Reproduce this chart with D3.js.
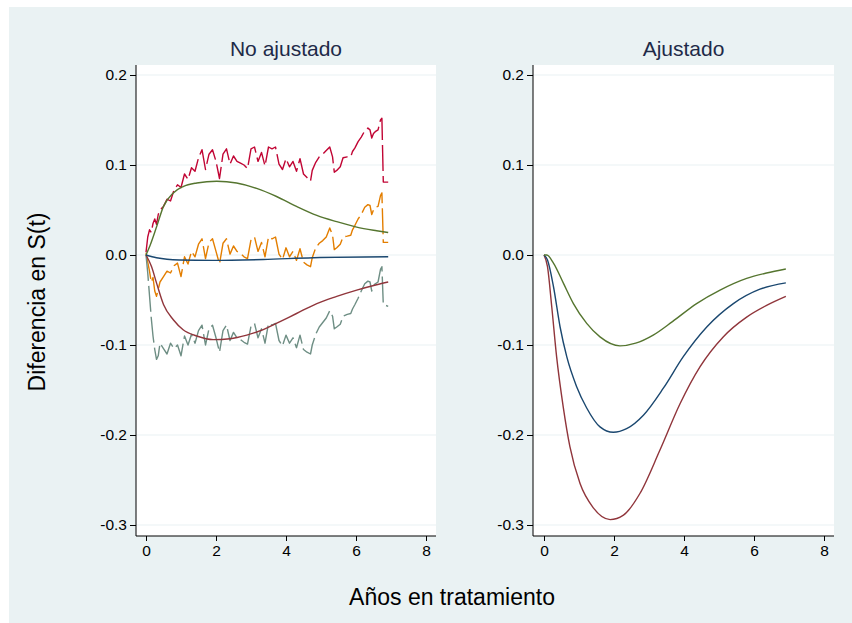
<!DOCTYPE html>
<html>
<head>
<meta charset="utf-8">
<script src="https://d3js.org/d3.v7.min.js"></script>
<style>
  body { margin: 0; background: #fff; }
  svg text { font-family: "Liberation Sans", Arial, Helvetica, sans-serif; }
</style>
</head>
<body>
<div id="viz"></div>
<script>
// ---- data ----
let yTicks = [0.2, 0.1, 0.0, -0.1, -0.2, -0.3];
let xTicks = [0, 2, 4, 6, 8];
let panelTitles = ["No ajustado", "Ajustado"];

// step-type estimates, no ajustado (dashed)
let tNoisy = [0, 0.05, 0.1, 0.15, 0.2, 0.25, 0.3, 0.35, 0.4,
  0.5, 0.6, 0.7, 0.8, 0.9, 1.0, 1.1, 1.2, 1.3, 1.4, 1.5, 1.6, 1.7, 1.8, 1.9,
  2.0, 2.1, 2.2, 2.3, 2.4, 2.5, 2.6, 2.7, 2.8, 2.9, 3.0, 3.1, 3.2, 3.3, 3.4,
  3.5, 3.6, 3.7, 3.8, 3.9, 4.0, 4.1, 4.2, 4.3, 4.4, 4.5, 4.6, 4.7,
  4.75, 4.85, 4.95, 5.05, 5.15, 5.25, 5.33, 5.38, 5.45, 5.55, 5.63, 5.75,
  5.85, 5.9, 5.97, 6.06, 6.15, 6.25, 6.34, 6.4, 6.45, 6.5, 6.55, 6.63,
  6.7, 6.74, 6.78, 6.92];
let upperNoisy = [0.003, 0.02, 0.028, 0.025, 0.035, 0.04, 0.034, 0.045, 0.05,
  0.054, 0.062, 0.06, 0.072, 0.078, 0.075, 0.09, 0.084, 0.097, 0.093, 0.108, 0.117, 0.095, 0.112, 0.117,
  0.104, 0.085, 0.112, 0.118, 0.101, 0.11, 0.104, 0.102, 0.1, 0.096, 0.118, 0.12, 0.104, 0.114, 0.099,
  0.12, 0.118, 0.12, 0.101, 0.095, 0.107, 0.098, 0.104, 0.093, 0.107, 0.09, 0.086, 0.082,
  0.094, 0.103, 0.109, 0.112, 0.116, 0.12, 0.109, 0.092, 0.094, 0.098, 0.108, 0.109,
  0.109, 0.115, 0.119, 0.126, 0.131, 0.138, 0.141, 0.139, 0.13, 0.135, 0.137, 0.139,
  0.15, 0.152, 0.081, 0.081];
let midNoisy = [0.002, -0.008, -0.018, -0.03, -0.025, -0.04, -0.046, -0.038, -0.03,
  -0.024, -0.018, -0.02, -0.012, -0.009, -0.024, -0.002, -0.01, 0.004, -0.002, 0.012, 0.018, -0.004, 0.014, 0.018,
  0.004, -0.01, 0.013, 0.018, 0.001, 0.01, 0.004, 0.002, -0.002, -0.004, 0.017, 0.02, 0.004, 0.014, -0.002,
  0.02, 0.018, 0.02, 0.001, -0.005, 0.008, -0.002, 0.004, -0.006, 0.007, -0.008, -0.011, -0.013,
  -0.003, 0.008, 0.013, 0.016, 0.02, 0.03, 0.022, 0.006, 0.008, 0.012, 0.02, 0.021,
  0.022, 0.028, 0.033, 0.04, 0.045, 0.053, 0.056, 0.055, 0.045, 0.05, 0.053, 0.054,
  0.066, 0.069, 0.014, 0.014];
let lowerNoisy = [0, -0.02, -0.045, -0.07, -0.09, -0.105, -0.116, -0.112, -0.098,
  -0.104, -0.11, -0.098, -0.104, -0.1, -0.112, -0.09, -0.1, -0.088, -0.098, -0.084, -0.078, -0.1, -0.082, -0.078,
  -0.092, -0.108, -0.084, -0.078, -0.095, -0.086, -0.092, -0.094, -0.097, -0.099, -0.079, -0.076, -0.092, -0.082, -0.098,
  -0.076, -0.078, -0.076, -0.095, -0.101, -0.089, -0.098, -0.092, -0.103, -0.089, -0.105, -0.108, -0.11,
  -0.1, -0.088, -0.08, -0.075, -0.07, -0.062, -0.068, -0.082, -0.08, -0.077, -0.068, -0.066,
  -0.065, -0.06, -0.055, -0.048, -0.04, -0.032, -0.029, -0.03, -0.04, -0.034, -0.032, -0.03,
  -0.016, -0.013, -0.055, -0.057];

// smooth model curves, no ajustado
let tGreenL = [0, 0.11, 0.3, 0.5, 0.78, 1.06, 1.45, 2.02, 2.59, 3.16, 3.73, 4.3, 4.88, 5.45, 6.02, 6.59, 6.92];
let greenL = [0, 0.01, 0.031, 0.054, 0.069, 0.076, 0.080, 0.082, 0.080, 0.074, 0.065, 0.054, 0.044, 0.037, 0.031, 0.027, 0.025];
let tRedL = [0, 0.16, 0.3, 0.5, 0.78, 1.06, 1.45, 1.92, 2.4, 2.88, 3.35, 3.83, 4.3, 4.88, 5.45, 6.02, 6.59, 6.92];
let redL = [0, -0.013, -0.031, -0.055, -0.072, -0.083, -0.090, -0.094, -0.093, -0.089, -0.083, -0.074, -0.065, -0.054, -0.046, -0.039, -0.033, -0.030];
let tBlueL = [0, 0.3, 0.95, 1.9, 3.35, 4.78, 6.92];
let blueL = [0, -0.003, -0.0055, -0.006, -0.005, -0.003, -0.002];

// smooth model curves, ajustado
let tGreenR = [0, 0.08, 0.27, 0.55, 0.84, 1.22, 1.6, 2.17, 2.62, 3.12, 3.67, 4.36, 5.03, 5.79, 6.36, 6.91];
let greenR = [0, 0, -0.009, -0.031, -0.054, -0.076, -0.091, -0.101, -0.098, -0.089, -0.074, -0.054, -0.039, -0.026, -0.020, -0.0156];
let tBlueR = [0, 0.1, 0.27, 0.46, 0.65, 0.93, 1.22, 1.6, 1.98, 2.36, 2.84, 3.41, 3.98, 4.65, 5.41, 6.17, 6.91];
let blueR = [0, -0.0056, -0.035, -0.080, -0.113, -0.146, -0.170, -0.191, -0.197, -0.193, -0.178, -0.148, -0.113, -0.080, -0.054, -0.038, -0.031];
let tRedR = [0, 0.1, 0.22, 0.36, 0.55, 0.74, 1.03, 1.41, 1.89, 2.27, 2.74, 3.31, 3.89, 4.46, 5.12, 5.79, 6.36, 6.91];
let redR = [0, -0.013, -0.057, -0.113, -0.169, -0.213, -0.254, -0.281, -0.294, -0.289, -0.265, -0.217, -0.165, -0.124, -0.091, -0.069, -0.056, -0.046];

// stata s2color-ish palette
let colors = {navy: "#1a476f", maroon: "#90353b", green: "#55752f",
              orange: "#e37e00", teal: "#6e8e84", cranberry: "#c10534"};

let width = 852, height = 623,
    plotTop = 65, plotBottom = 536;

let svg = d3.select('#viz')
  .append('svg')
  .attr('width', width)
  .attr('height', height);

// graph region
svg.append('rect')
  .attr('x', 9).attr('y', 7)
  .attr('width', width - 9).attr('height', height - 7)
  .attr('fill', '#eaf2f3');

let y = d3.scaleLinear().domain([-0.3, 0.2]).range([525, 75]);
let fmt = v => d3.format('.1f')(v).replace('\u2212', '-');

let panels = [
  {left: 136, right: 436, x0: 146, x1: 426, title: panelTitles[0],
   lines: [
     {t: tNoisy, v: upperNoisy, color: colors.cranberry, dash: true},
     {t: tNoisy, v: midNoisy, color: colors.orange, dash: true},
     {t: tNoisy, v: lowerNoisy, color: colors.teal, dash: true},
     {t: tGreenL, v: greenL, color: colors.green},
     {t: tRedL, v: redL, color: colors.maroon},
     {t: tBlueL, v: blueL, color: colors.navy}
   ]},
  {left: 533, right: 834, x0: 544, x1: 824, title: panelTitles[1],
   lines: [
     {t: tRedR, v: redR, color: colors.maroon},
     {t: tBlueR, v: blueR, color: colors.navy},
     {t: tGreenR, v: greenR, color: colors.green}
   ]}
];

panels.forEach(p => {
  let x = d3.scaleLinear().domain([0, 8]).range([p.x0, p.x1]);
  let g = svg.append('g');

  // plot region
  g.append('rect')
    .attr('x', p.left).attr('y', plotTop)
    .attr('width', p.right - p.left).attr('height', plotBottom - plotTop)
    .attr('fill', '#fff');

  // gridlines
  g.selectAll('.grid')
    .data(yTicks)
    .join('line')
    .attr('x1', p.left).attr('x2', p.right)
    .attr('y1', d => y(d)).attr('y2', d => y(d))
    .attr('stroke', '#eaf2f3')
    .attr('stroke-width', 1.2);

  // y axis
  let yAxis = g.append('g')
    .attr('transform', `translate(${p.left},0)`)
    .call(d3.axisLeft(y).tickValues(yTicks).tickFormat(fmt).tickSize(6).tickPadding(3));
  yAxis.select('.domain').attr('d', `M0,${plotTop}V${plotBottom}`);

  // x axis
  let xAxis = g.append('g')
    .attr('transform', `translate(0,${plotBottom})`)
    .call(d3.axisBottom(x).tickValues(xTicks).tickSize(5).tickPadding(4));
  xAxis.select('.domain').attr('d', `M${p.left},0H${p.right}`);

  [yAxis, xAxis].forEach(a => {
    a.selectAll('text').attr('font-size', 15.5).attr('fill', '#000')
      .style('font-family', '"Liberation Sans", Arial, sans-serif');
    a.selectAll('line, path').attr('stroke', '#000');
  });

  // series
  p.lines.forEach(s => {
    let pts = s.t.map((t, i) => [t, s.v[i]]);
    let line = d3.line()
      .x(d => x(d[0]))
      .y(d => y(d[1]))
      .curve(s.dash ? d3.curveLinear : d3.curveMonotoneX);
    g.append('path')
      .datum(pts)
      .attr('d', line)
      .attr('fill', 'none')
      .attr('stroke', s.color)
      .attr('stroke-width', 1.4)
      .attr('stroke-linejoin', 'round')
      .attr('stroke-dasharray', s.dash ? '26,5' : null);
  });

  // panel title
  svg.append('text')
    .attr('x', (p.left + p.right) / 2)
    .attr('y', 56)
    .attr('text-anchor', 'middle')
    .attr('font-size', 21)
    .attr('fill', '#1e2a48')
    .text(p.title);
});

// axis titles
svg.append('text')
  .attr('text-anchor', 'middle')
  .attr('transform', 'translate(45,302)rotate(-90)')
  .attr('font-size', 23)
  .text('Diferencia en S(t)');

svg.append('text')
  .attr('text-anchor', 'middle')
  .attr('x', 452)
  .attr('y', 605)
  .attr('font-size', 23)
  .text('Años en tratamiento');
</script>
</body>
</html>
